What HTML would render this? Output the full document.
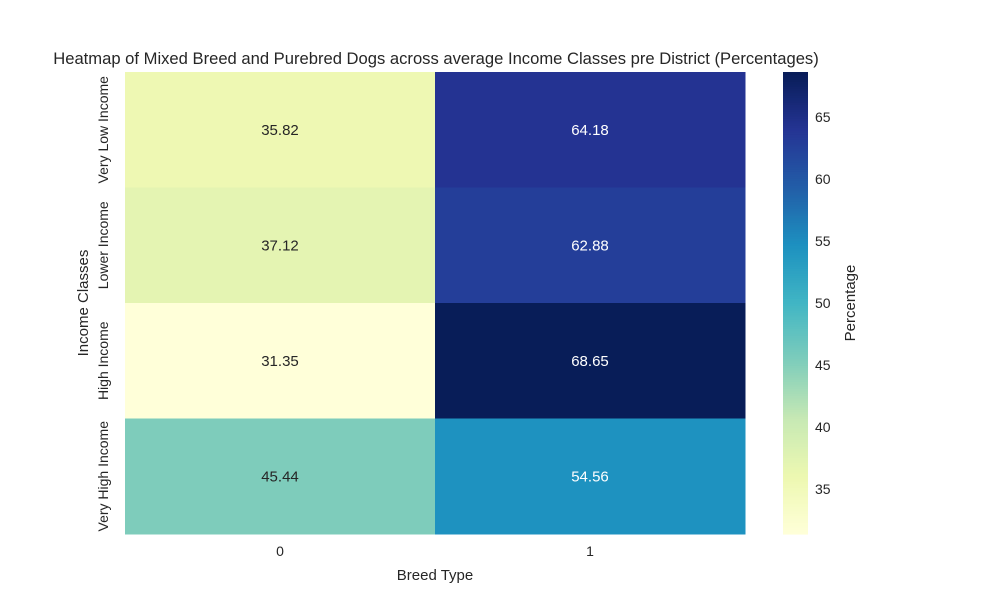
<!DOCTYPE html>
<html><head><meta charset="utf-8"><style>
body{margin:0;background:#fff;}
svg{font-family:"Liberation Sans",sans-serif;}
</style></head><body>
<svg id="chart" width="1000" height="600" xmlns="http://www.w3.org/2000/svg">
<rect width="1000" height="600" fill="#fff"/>
<text x="436" y="64" text-anchor="middle" font-size="16.6" fill="#262626">Heatmap of Mixed Breed and Purebred Dogs across average Income Classes pre District (Percentages)</text>
<g id="cells"></g>
<g id="cbar"></g>
<text x="435" y="580" text-anchor="middle" font-size="15" fill="#262626">Breed Type</text>
<text transform="translate(88,303) rotate(-90)" text-anchor="middle" font-size="15" fill="#262626">Income Classes</text>
<text transform="translate(855,303) rotate(-90)" text-anchor="middle" font-size="15" fill="#262626">Percentage</text>
</svg>
<script>
const rows = ["Very Low Income","Lower Income","High Income","Very High Income"];
const cols = ["0","1"];
const col0 = [35.82,37.12,31.35,45.44];
const col1 = [64.18,62.88,68.65,54.56];
const cbTicks = [35,40,45,50,55,60,65];
const stops=["#ffffd9","#edf8b1","#c7e9b4","#7fcdbb","#41b6c4","#1d91c0","#225ea8","#253494","#081d58"];
const NS="http://www.w3.org/2000/svg";
const L=125,R=745,T=72,B=534;
const vals=[col0,col1];
const all=col0.concat(col1);
const vmin=Math.min(...all),vmax=Math.max(...all);
function hex(h){return [1,3,5].map(i=>parseInt(h.substr(i,2),16));}
function cmap(v){let t=(v-vmin)/(vmax-vmin);t=Math.max(0,Math.min(1,t))*(stops.length-1);
 const i=Math.min(Math.floor(t),stops.length-2),f=t-i;const a=hex(stops[i]),b=hex(stops[i+1]);
 return "rgb("+a.map((x,k)=>Math.round(x+(b[k]-x)*f)).join(",")+")";}
function lum(v){let t=(v-vmin)/(vmax-vmin);return t<0.5;}
const cw=(R-L)/cols.length,rh=(B-T)/rows.length;
function xs(j){return L+j*cw;} function ys(i){return T+i*rh;}
const g=document.getElementById("cells");
function mk(tag,attrs,p){const e=document.createElementNS(NS,tag);for(const k in attrs)e.setAttribute(k,attrs[k]);p.appendChild(e);return e;}
cols.forEach((c,j)=>{rows.forEach((r,i)=>{
 const v=vals[j][i];
 const rc=mk("rect",{x:xs(j),y:ys(i),width:cw+0.5,height:rh+0.5,fill:cmap(v)},g);
 
 
 const t=mk("text",{x:xs(j)+cw/2,y:ys(i)+rh/2+5,"text-anchor":"middle","font-size":"15",fill:lum(v)?"#262626":"#fff"},g);
 t.textContent=v.toFixed(2);
 
 
});});
cols.forEach((c,j)=>{const t=mk("text",{x:xs(j)+cw/2,y:B+22,"text-anchor":"middle","font-size":"14",fill:"#262626"},g);t.textContent=c;
 
 });
rows.forEach((r,i)=>{const t=mk("text",{transform:"translate("+(L-17)+","+(ys(i)+rh/2)+") rotate(-90)","text-anchor":"middle","font-size":"14",fill:"#262626"},g);t.textContent=r;
 
 });
const cb=document.getElementById("cbar");const CX=783,CW=25;
function cy(v){return B-(v-vmin)/(vmax-vmin)*(B-T);}
for(let k=0;k<200;k++){const v0=vmin+(vmax-vmin)*k/200,v1=vmin+(vmax-vmin)*(k+1)/200;
 const r=mk("rect",{x:CX,y:cy(v1),width:CW,height:cy(v0)-cy(v1)+0.6,fill:cmap((v0+v1)/2)},cb);
 
 }
cbTicks.forEach(v=>{
 const t=mk("text",{x:CX+CW+7,y:cy(v)+5,"font-size":"14",fill:"#262626"},cb);t.textContent=v;
 
 });
</script>
</body></html>
